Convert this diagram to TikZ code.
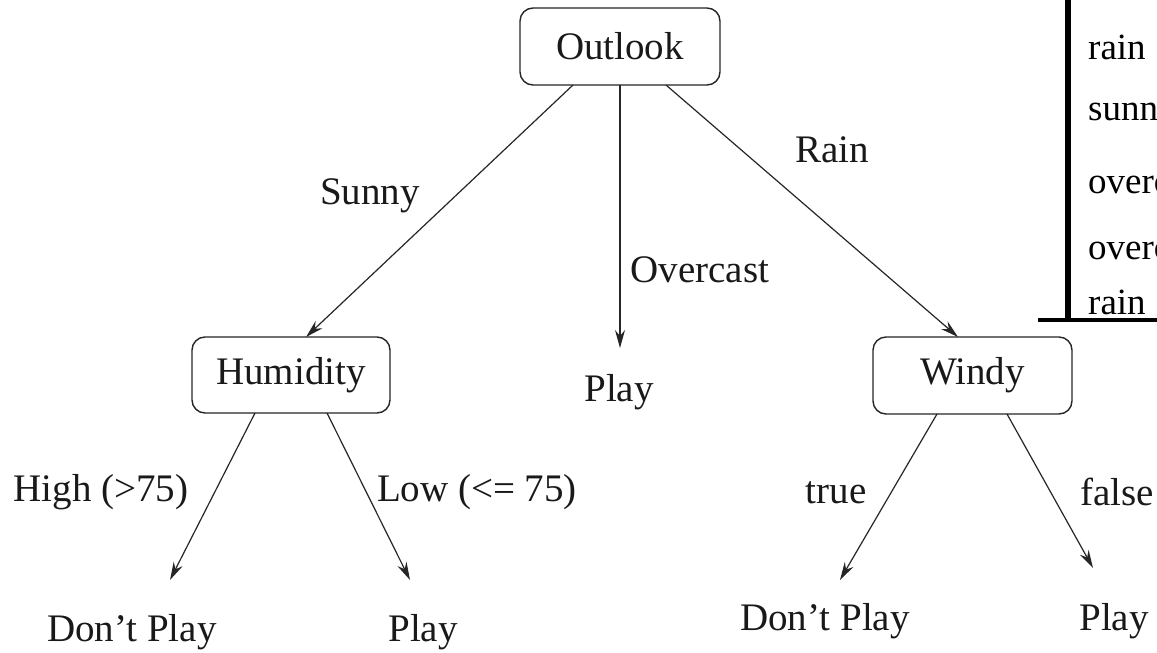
\documentclass[tikz,border=0pt]{standalone}
\usepackage{fontspec}
\setmainfont{Liberation Serif}
\usetikzlibrary{arrows.meta}
\begin{document}
\begin{tikzpicture}[x=1pt,y=-1pt,
  txt/.style={font=\fontsize{39}{42}\selectfont, inner sep=0pt, text=black!90},
  box/.style={txt, draw=black!85, rounded corners=13pt, line width=1.4pt},
  edge/.style={draw=black!85, line width=1.2pt, -{Stealth[length=18pt,width=10pt,inset=6pt]}},
  tbl/.style={font=\fontsize{37}{40}\selectfont, inner sep=0pt, anchor=west}]
\useasboundingbox (0,0) rectangle (1157,653);
\fill[white] (0,0) rectangle (1157,653);
% decision nodes
\node[box, minimum width=200pt, minimum height=77pt] (outlook) at (620,46.5) {Outlook};
\node[box, minimum width=198pt, minimum height=76pt] (humid) at (291,375) {Humidity};
\node[box, minimum width=199pt, minimum height=77pt] (windy) at (972.5,375.5) {Windy};
% outcomes
\node[txt] (play1) at (619,392) {Play};
\node[txt] (dp1) at (132,632) {Don't Play};
\node[txt] (play2) at (423,632) {Play};
\node[txt] (dp2) at (825,621) {Don't Play};
\node[txt] (play3) at (1114,621) {Play};
% branch start points on the box edges
\coordinate (o1) at (573,85);
\coordinate (o2) at (620,85);
\coordinate (o3) at (666,85);
\coordinate (h1) at (255,413);
\coordinate (h2) at (327,413);
\coordinate (w1) at (937,414);
\coordinate (w2) at (1007,414);
% arrow tips
\coordinate (e1) at (306,337);
\coordinate (e2) at (620,348);
\coordinate (e3) at (958,337);
\coordinate (e4) at (170,580);
\coordinate (e5) at (410,580);
\coordinate (e6) at (840,580);
\coordinate (e7) at (1093,568);
% branches
\draw[edge] (o1) -- (e1);
\draw[edge] (o2) -- (e2);
\draw[edge] (o3) -- (e3);
\draw[edge] (h1) -- (e4);
\draw[edge] (h2) -- (e5);
\draw[edge] (w1) -- (e6);
\draw[edge] (w2) -- (e7);
% branch labels
\node[txt] (lsun) at (370,196) {Sunny};
\node[txt] (lover) at (700,270) {Overcast};
\node[txt] (lrain) at (832,150) {Rain};
\node[txt] (lhigh) at (101,492) {High (>75)};
\node[txt] (llow) at (477,492) {Low (<= 75)};
\node[txt] (ltrue) at (836,493) {true};
\node[txt] (lfalse) at (1117,492) {false};
% data table in the upper right corner, running off the edge
\begin{scope}
\clip (0,0) rectangle (1157,653);
\fill[white] (1068,0) rectangle (1157,320);
\draw[line width=6pt] (1068,0) -- (1068,322);
\draw[line width=4pt] (1038,320) -- (1160,320);
\node[tbl] (r1) at (1088,47) {rain};
\node[tbl] (r2) at (1088,116) {sunny};
\node[tbl] (r3) at (1088,183) {overcast};
\node[tbl] (r4) at (1088,249) {overcast};
\node[tbl] (r5) at (1088,302) {rain};
\end{scope}
\end{tikzpicture}
\end{document}
